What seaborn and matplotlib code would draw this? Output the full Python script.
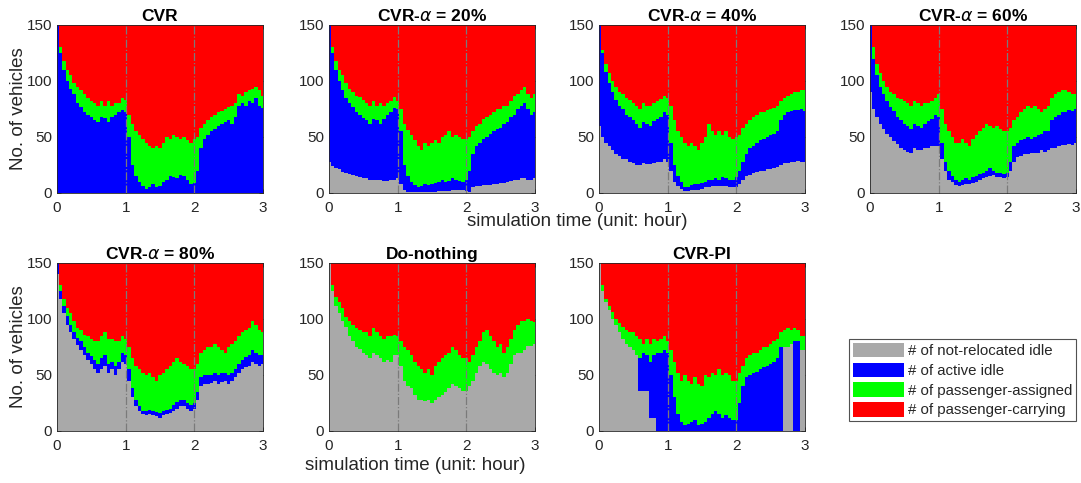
import numpy as np
import matplotlib
matplotlib.use("Agg")
import matplotlib.pyplot as plt
import seaborn as sns
from matplotlib.patches import Patch

# ---------------- data ----------------
time_h = np.round(np.arange(0, 3.0001, 0.05), 2)  # 61 samples, 0..3 h
total_vehicles = 150

categories = ["# of not-relocated idle", "# of active idle",
              "# of passenger-assigned", "# of passenger-carrying"]
panel_titles = ["CVR", r"CVR-$\alpha$ = 20%", r"CVR-$\alpha$ = 40%", r"CVR-$\alpha$ = 60%",
                r"CVR-$\alpha$ = 80%", "Do-nothing", "CVR-PI"]
x_ticks = [0, 1, 2, 3]
y_ticks = [0, 50, 100, 150]

# cumulative levels: top of grey (not-relocated idle), top of blue (active idle),
# top of green (passenger-assigned); red (carrying) fills up to 150
cvr_grey_top = [0] * 61
cvr_blue_top = [150, 125, 110, 100, 93, 88, 80, 77, 72, 70, 68, 65, 63, 68, 67, 63, 68, 70, 72, 74,
                72, 50, 25, 15, 10, 6, 4, 5, 8, 5, 6, 10, 12, 15, 14, 13, 16, 15, 12, 8,
                9, 20, 40, 48, 52, 55, 57, 60, 62, 63, 65, 62, 68, 78, 80, 78, 82, 80, 85, 78, 76]
cvr_green_top = [150, 130, 118, 110, 105, 98, 95, 92, 88, 85, 82, 80, 78, 82, 78, 82, 78, 80, 80, 85,
                 83, 70, 62, 55, 52, 48, 45, 42, 40, 42, 40, 45, 50, 48, 52, 50, 48, 50, 47, 45,
                 48, 50, 58, 62, 65, 68, 70, 72, 73, 75, 77, 78, 80, 88, 87, 90, 92, 93, 95, 92, 87]

a20_grey_top = [28, 24, 22, 21, 19, 18, 17, 16, 15, 14, 13, 13, 12, 12, 12, 12, 11, 11, 12, 12,
                13, 8, 3, 1, 1, 1, 1, 1, 1, 1, 1, 1, 2, 2, 2, 2, 3, 3, 3, 3,
                2, 1, 5, 6, 6, 7, 7, 7, 8, 8, 9, 9, 10, 11, 12, 12, 13, 13, 12, 12, 13]
a20_blue_top = [150, 125, 110, 100, 92, 85, 80, 77, 72, 70, 67, 65, 62, 66, 65, 62, 66, 70, 72, 76,
                75, 55, 25, 15, 10, 7, 5, 6, 8, 7, 8, 9, 10, 12, 10, 11, 13, 12, 11, 10,
                12, 20, 35, 42, 45, 48, 50, 53, 55, 57, 58, 62, 63, 68, 70, 75, 78, 80, 75, 70, 72]
a20_green_top = [150, 130, 118, 110, 105, 98, 93, 90, 87, 86, 83, 80, 78, 82, 78, 80, 78, 80, 82, 86,
                 82, 75, 62, 56, 52, 47, 42, 38, 45, 42, 45, 47, 45, 50, 52, 55, 50, 52, 50, 48,
                 48, 50, 55, 60, 62, 66, 68, 70, 72, 75, 75, 78, 78, 82, 87, 88, 92, 95, 88, 85, 88]

a40_grey_top = [60, 50, 45, 42, 38, 35, 33, 30, 30, 28, 27, 25, 25, 27, 26, 26, 27, 28, 28, 30,
                28, 20, 10, 6, 4, 2, 2, 3, 3, 3, 4, 5, 5, 6, 6, 6, 6, 6, 5, 5,
                5, 8, 12, 15, 16, 18, 19, 20, 20, 21, 21, 22, 23, 25, 27, 27, 28, 28, 29, 28, 28]
a40_blue_top = [150, 125, 108, 98, 90, 83, 78, 75, 70, 68, 65, 62, 58, 63, 62, 60, 64, 66, 68, 72,
                70, 45, 25, 15, 10, 5, 5, 7, 8, 8, 9, 10, 12, 12, 13, 12, 14, 13, 12, 12,
                14, 20, 28, 35, 40, 42, 45, 47, 48, 50, 52, 53, 55, 65, 70, 72, 73, 74, 74, 75, 73]
a40_green_top = [150, 128, 115, 107, 100, 95, 90, 88, 85, 83, 80, 78, 75, 80, 78, 78, 80, 82, 84, 87,
                 85, 78, 65, 55, 50, 45, 42, 45, 42, 38, 45, 50, 62, 55, 52, 55, 52, 55, 50, 48,
                 50, 52, 58, 62, 65, 68, 70, 72, 72, 74, 75, 76, 78, 82, 85, 87, 88, 90, 90, 92, 92]

a60_grey_top = [90, 75, 68, 62, 57, 53, 50, 46, 44, 40, 38, 37, 36, 40, 38, 38, 40, 40, 42, 42,
                42, 30, 20, 12, 10, 7, 6, 7, 8, 8, 9, 10, 12, 13, 14, 15, 16, 14, 14, 13,
                14, 20, 28, 32, 33, 35, 35, 36, 36, 36, 38, 37, 38, 40, 40, 42, 43, 43, 44, 43, 45]
a60_blue_top = [150, 120, 105, 95, 88, 82, 77, 73, 68, 65, 62, 60, 57, 62, 60, 58, 62, 64, 66, 70,
                68, 45, 28, 20, 15, 12, 10, 12, 13, 12, 14, 15, 17, 18, 20, 22, 20, 18, 18, 17,
                18, 28, 42, 45, 47, 48, 50, 48, 50, 52, 53, 55, 55, 65, 68, 70, 72, 72, 74, 73, 75]
a60_green_top = [150, 130, 115, 107, 100, 95, 90, 88, 85, 84, 82, 80, 78, 82, 80, 78, 80, 80, 82, 85,
                 88, 75, 62, 55, 50, 45, 45, 48, 45, 42, 48, 52, 55, 58, 62, 60, 58, 60, 57, 55,
                 55, 58, 65, 68, 72, 75, 78, 76, 78, 75, 72, 75, 78, 85, 88, 90, 92, 92, 90, 88, 88]

a80_grey_top = [140, 118, 105, 95, 88, 82, 77, 72, 68, 63, 60, 55, 52, 55, 58, 52, 55, 50, 55, 62,
                60, 45, 30, 22, 18, 15, 14, 15, 14, 13, 12, 14, 15, 16, 18, 20, 22, 22, 20, 18,
                20, 28, 40, 42, 42, 43, 45, 42, 44, 45, 42, 45, 48, 52, 55, 57, 58, 62, 60, 58, 60]
a80_blue_top = [150, 125, 112, 103, 95, 88, 83, 80, 75, 70, 67, 63, 60, 65, 68, 60, 62, 58, 62, 70,
                68, 55, 38, 28, 22, 18, 18, 19, 18, 17, 16, 18, 19, 20, 23, 26, 28, 28, 25, 23,
                25, 35, 48, 50, 50, 50, 52, 50, 52, 52, 50, 52, 55, 60, 63, 66, 68, 72, 70, 68, 68]
a80_green_top = [150, 130, 118, 110, 105, 98, 92, 90, 86, 85, 82, 80, 80, 85, 88, 82, 82, 80, 80, 85,
                 82, 75, 65, 58, 55, 52, 50, 52, 48, 45, 50, 52, 55, 58, 62, 65, 62, 60, 58, 55,
                 55, 60, 70, 72, 75, 75, 78, 75, 72, 70, 75, 78, 80, 85, 88, 90, 92, 98, 95, 90, 88]

dn_grey_top = [150, 125, 112, 105, 98, 93, 85, 80, 75, 73, 70, 68, 65, 70, 68, 65, 62, 63, 62, 68,
               68, 58, 45, 40, 38, 32, 28, 28, 27, 28, 25, 28, 30, 32, 35, 38, 42, 40, 38, 36,
               36, 40, 45, 52, 58, 62, 60, 55, 52, 50, 52, 48, 52, 60, 68, 70, 70, 72, 76, 76, 78]
dn_blue_top = list(dn_grey_top)
dn_green_top = [150, 130, 120, 115, 110, 102, 98, 95, 92, 90, 88, 88, 85, 92, 88, 85, 82, 85, 85, 86,
                85, 80, 75, 72, 68, 62, 58, 55, 52, 55, 50, 58, 62, 65, 68, 70, 75, 72, 68, 65,
                65, 62, 68, 75, 80, 88, 90, 85, 80, 75, 78, 70, 75, 82, 90, 95, 98, 98, 100, 98, 97]

pi_blue_top = [150, 125, 115, 108, 100, 95, 88, 82, 78, 75, 72, 68, 65, 70, 68, 62, 68, 70, 70, 72,
               70, 50, 30, 15, 8, 5, 6, 8, 10, 5, 6, 8, 12, 15, 18, 15, 12, 14, 12, 10,
               10, 25, 40, 48, 50, 52, 53, 55, 57, 58, 60, 62, 65, 75, 75, 75, 78, 80, 80, 72, 72]
pi_grey_top = [150, 125, 115, 108, 100, 95, 88, 82, 78, 75, 72, 68, 36, 36, 36, 12, 12, 0, 0, 0,
               0, 0, 0, 0, 0, 0, 0, 0, 0, 0, 0, 0, 0, 0, 0, 0, 0, 0, 0, 0,
               0, 0, 0, 0, 0, 0, 0, 0, 0, 0, 0, 0, 0, 0, 75, 75, 78, 0, 0, 72, 72]
pi_green_top = [150, 130, 118, 112, 106, 100, 96, 93, 90, 88, 88, 85, 82, 78, 82, 78, 82, 80, 82, 85,
                80, 72, 62, 52, 45, 50, 45, 42, 48, 42, 40, 50, 48, 52, 50, 55, 50, 52, 50, 45,
                45, 52, 58, 65, 68, 70, 70, 72, 75, 75, 78, 80, 82, 88, 90, 92, 90, 92, 90, 85, 85]

grey_tops = [cvr_grey_top, a20_grey_top, a40_grey_top, a60_grey_top, a80_grey_top, dn_grey_top, pi_grey_top]
blue_tops = [cvr_blue_top, a20_blue_top, a40_blue_top, a60_blue_top, a80_blue_top, dn_blue_top, pi_blue_top]
green_tops = [cvr_green_top, a20_green_top, a40_green_top, a60_green_top, a80_green_top, dn_green_top, pi_green_top]

layer_colors = ["#A9A9A9", "#0000FF", "#00FF00", "#FF0000"]

# ---------------- style ----------------
sns.set_theme(style="ticks")
plt.rcParams["font.family"] = ["Liberation Sans", "DejaVu Sans"]
plt.rcParams["mathtext.fontset"] = "dejavusans"
plt.rcParams["xtick.direction"] = "in"
plt.rcParams["ytick.direction"] = "in"

W, H = 1081, 483
fig = plt.figure(figsize=(W / 100, H / 100), dpi=100)

col_left = [57, 329, 599, 870]
ax_w = 206
row_top = [25, 263]
ax_h = 168

positions = [(col_left[i % 4], row_top[i // 4]) for i in range(7)]

for k in range(7):
    lx, ty = positions[k]
    ax = fig.add_axes([lx / W, 1 - (ty + ax_h) / H, ax_w / W, ax_h / H])
    g = np.array(grey_tops[k], float)
    b = np.array(blue_tops[k], float)
    gr = np.array(green_tops[k], float)
    counts = [g, b - g, gr - b, total_vehicles - gr]
    base = np.zeros_like(g)
    for c, col in zip(counts, layer_colors):
        top = base + c
        ax.fill_between(time_h, base, top, step="mid", color=col, linewidth=0)
        base = top
    for xv in (1, 2):
        ax.axvline(xv, color="#7a7a7a", linestyle="-.", linewidth=0.9)
    ax.set_xlim(0, 3)
    ax.set_ylim(0, 150)
    ax.set_xticks(x_ticks)
    ax.set_yticks(y_ticks)
    ax.tick_params(axis="x", pad=6)
    ax.tick_params(axis="y", pad=3.5)
    ax.tick_params(axis="both", labelsize=11, colors="#262626", length=3, width=0.6,
                   top=True, right=True)
    for s in ax.spines.values():
        s.set_visible(True)
        s.set_color("#262626")
        s.set_linewidth(0.6)
    ax.set_title(panel_titles[k], fontsize=12.5, fontweight="bold", pad=3, color="black")
    if k in (0, 4):
        ax.set_ylabel("No. of vehicles", fontsize=13.5, color="#262626", labelpad=0)

fig.text(577 / W, 1 - 222 / H, "simulation time (unit: hour)", ha="center", va="center",
         fontsize=13.5, color="#262626")
fig.text(415 / W, 1 - 466 / H, "simulation time (unit: hour)", ha="center", va="center",
         fontsize=13.5, color="#262626")

handles = [Patch(facecolor=c, edgecolor="none") for c in layer_colors]
leg = fig.legend(handles, categories, loc="upper left", bbox_to_anchor=(849 / W, 1 - 339 / H),
                 fontsize=10.8, frameon=True, fancybox=False, handlelength=3.4, handleheight=1.1,
                 handletextpad=0.25, labelspacing=0.3, borderpad=0.25, borderaxespad=0)
leg.get_frame().set_edgecolor("#262626")
leg.get_frame().set_linewidth(0.8)

fig.savefig("out.png", dpi=100)
